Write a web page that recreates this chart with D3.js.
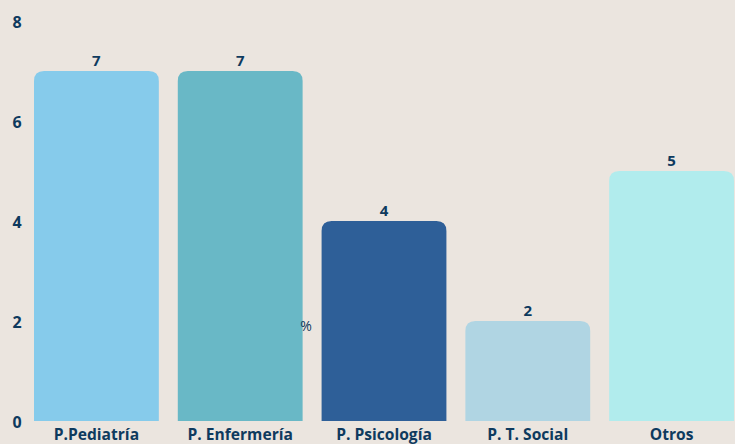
<!DOCTYPE html>
<html><head><meta charset="utf-8">
<script src="https://cdn.jsdelivr.net/npm/d3@7"></script>
<style>html,body{margin:0;padding:0;background:#ebe5df;}svg{display:block;}</style>
</head><body>
<svg id="c" width="735" height="444"></svg>
<script>
const categories = ["P.Pediatría","P. Enfermería","P. Psicología","P. T. Social","Otros"];
const values = [7,7,4,2,5];
const colors = ["#86cbeb","#69b8c6","#2e5f98","#b0d5e3","#b1eced"];
const yTicks = [0,2,4,6,8];

const svg = d3.select("#c");
const W = 735, H = 444;
svg.append("rect").attr("width",W).attr("height",H).attr("fill","#ebe5df");
const x = d3.scaleBand().domain(categories).range([34,734]).paddingInner(0.132).paddingOuter(0);
const y = d3.scaleLinear().domain([0,8]).range([421,21]);
const r = 10;
const txt = "#0e3a5e";
const font = "'Open Sans', sans-serif";

function barPath(x0,w,yt,yb){
  const rr = Math.min(r,(yb-yt),w/2);
  return `M${x0},${yb}V${yt+rr}Q${x0},${yt} ${x0+rr},${yt}H${x0+w-rr}Q${x0+w},${yt} ${x0+w},${yt+rr}V${yb}Z`;
}
svg.selectAll("path.bar").data(categories).join("path").attr("class","bar")
  .attr("d",(d,i)=>barPath(x(d),x.bandwidth(),y(values[i]),y(0)))
  .attr("fill",(d,i)=>colors[i]);

svg.selectAll("text.val").data(categories).join("text").attr("class","val")
  .attr("x",d=>x(d)+x.bandwidth()/2).attr("y",(d,i)=>y(values[i])-5)
  .attr("text-anchor","middle").attr("font-family",font).attr("font-weight","bold")
  .attr("font-size",15).attr("fill",txt).text((d,i)=>values[i]);

svg.selectAll("text.yt").data(yTicks).join("text").attr("class","yt")
  .attr("x",17).attr("y",d=>y(d)+7).attr("text-anchor","middle")
  .attr("font-family",font).attr("font-weight","bold").attr("font-size",16)
  .attr("fill",txt).text(d=>d);

svg.selectAll("text.cat").data(categories).join("text").attr("class","cat")
  .attr("x",d=>x(d)+x.bandwidth()/2).attr("y",440).attr("text-anchor","middle")
  .attr("font-family",font).attr("font-weight","bold").attr("font-size",15.6)
  .attr("fill",txt).text(d=>d);

svg.append("text").attr("x",306).attr("y",331).attr("text-anchor","middle")
  .attr("font-family",font).attr("font-size",14).attr("fill",txt).text("%");
</script>
</body></html>
